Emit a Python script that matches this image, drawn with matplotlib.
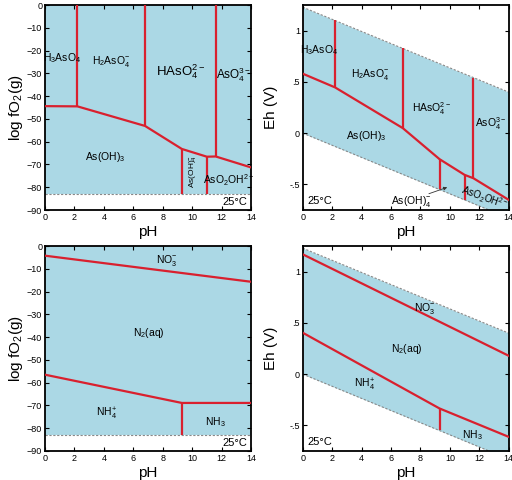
import numpy as np
import matplotlib
matplotlib.use("Agg")
import matplotlib.pyplot as plt

plt.rcParams['font.family'] = ['Liberation Sans', 'DejaVu Sans']
plt.rcParams['mathtext.fontset'] = 'custom'
plt.rcParams['mathtext.rm'] = 'Liberation Sans'
plt.rcParams['mathtext.it'] = 'Liberation Sans:italic'

# ---------------- data ----------------
ph_ticks = [0, 2, 4, 6, 8, 10, 12, 14]
logf_ticks = [0, -10, -20, -30, -40, -50, -60, -70, -80, -90]
eh_ticks = [-0.5, 0, 0.5, 1]
eh_ticklabels = ['-.5', '0', '.5', '1']

water_low_logf = -83.1
water_eh_top = [1.229, 0.40]     # upper water limit at pH 0 and 14
water_eh_bot = [0.0, -0.829]     # lower water limit at pH 0 and 14
water_ph = [0, 14]

# As, log fO2
as_f_bound_ph = [0, 2.2, 6.8, 9.3, 11.0, 11.6, 14]
as_f_bound_v = [-44.4, -44.5, -53.1, -63.2, -66.6, -66.5, -71.3]
as_f_vert_ph = [2.2, 6.8, 11.6, 9.3, 11.0]
as_f_vert_lo = [-44.5, -53.1, -66.5, -83.1, -83.1]
as_f_vert_hi = [0, 0, 0, -63.2, -66.6]

# As, Eh
as_e_bound_ph = [0, 2.2, 6.8, 9.3, 11.0, 11.6, 14]
as_e_bound_v = [0.58, 0.446, 0.049, -0.254, -0.407, -0.44, -0.651]
as_e_vert_ph = [2.2, 6.8, 11.6, 9.3, 11.0]
as_e_vert_lo = [0.446, 0.049, -0.433, -0.547, -0.651]
as_e_vert_hi = [1.099, 0.826, 0.542, -0.254, -0.407]

# N, log fO2
n_f_no3_ph = [0, 14]
n_f_no3_v = [-4.25, -15.7]
n_f_nh_ph = [0, 9.3, 14]
n_f_nh_v = [-56.5, -68.9, -68.9]
n_f_vert = [9.3, -83.1, -68.9]

# N, Eh
n_e_no3_ph = [0, 14]
n_e_no3_v = [1.169, 0.179]
n_e_nh_ph = [0, 9.3, 14]
n_e_nh_v = [0.404, -0.335, -0.612]
n_e_vert = [9.3, -0.547, -0.335]

FILL = '#abd8e5'
RED = '#d9202e'
LW = 1.6

fig = plt.figure(figsize=(5.12, 4.8), dpi=100)
W = 206 / 512
H = 205 / 480
ax1 = fig.add_axes([45 / 512, 1 - 210 / 480, W, H])
ax2 = fig.add_axes([302.7 / 512, 1 - 210 / 480, W, H])
ax3 = fig.add_axes([45 / 512, 1 - 451 / 480, W, H])
ax4 = fig.add_axes([302.7 / 512, 1 - 451 / 480, W, H])


def style(ax, logf):
    ax.set_xlim(0, 14)
    ax.set_xticks(ph_ticks)
    ax.tick_params(direction='in', top=True, right=True, labelsize=6.5,
                   length=3, width=0.8, pad=2)
    for s in ax.spines.values():
        s.set_linewidth(1.3)
    ax.set_xlabel('pH', fontsize=11, labelpad=2)
    if logf:
        ax.set_ylim(-90, 0)
        ax.set_yticks(logf_ticks)
        ax.set_ylabel(r'log fO$_2$(g)', fontsize=11, labelpad=1)
        ax.axhspan(water_low_logf, 0, color=FILL, lw=0, zorder=0)
        ax.axhline(water_low_logf, color='#888888', ls=(0, (2, 1.5)), lw=0.8, zorder=1)
        ax.text(12.9, -86.6, '25°C', fontsize=8, ha='center', va='center')
    else:
        ax.set_ylim(-0.75, 1.25)
        ax.set_yticks(eh_ticks)
        ax.set_yticklabels(eh_ticklabels)
        ax.set_ylabel('Eh (V)', fontsize=11, labelpad=8)
        ax.fill_between(water_ph, water_eh_bot, water_eh_top, color=FILL, lw=0, zorder=0)
        ax.plot(water_ph, water_eh_top, color='#888888', ls=(0, (2, 1.5)), lw=0.8, zorder=1)
        ax.plot(water_ph, water_eh_bot, color='#888888', ls=(0, (2, 1.5)), lw=0.8, zorder=1)
        ax.text(1.14, -0.665, '25°C', fontsize=8, ha='center', va='center')


style(ax1, True)
style(ax2, False)
style(ax3, True)
style(ax4, False)

# ---- As log fO2 ----
ax1.plot(as_f_bound_ph, as_f_bound_v, color=RED, lw=LW, zorder=3)
ax1.vlines(as_f_vert_ph, as_f_vert_lo, as_f_vert_hi, color=RED, lw=LW, zorder=3)
fs = 7.5
ax1.text(1.13, -23.4, r'H$_3$AsO$_4$', fontsize=fs, ha='center', va='center')
ax1.text(4.5, -24.9, r'H$_2$AsO$_4^{-}$', fontsize=fs, ha='center', va='center')
ax1.text(9.2, -29.3, r'HAsO$_4^{2-}$', fontsize=9.5, ha='center', va='center')
ax1.text(12.8, -30.7, r'AsO$_4^{3-}$', fontsize=8.5, ha='center', va='center')
ax1.text(4.1, -66.6, r'As(OH)$_3$', fontsize=fs, ha='center', va='center')
ax1.text(10.05, -73.2, r'As(OH)$_4^{-}$', fontsize=6, ha='center', va='center', rotation=90)
ax1.text(12.5, -76.9, r'AsO$_2$OH$^{2-}$', fontsize=fs, ha='center', va='center')

# ---- As Eh ----
ax2.plot(as_e_bound_ph, as_e_bound_v, color=RED, lw=LW, zorder=3)
ax2.vlines(as_e_vert_ph, as_e_vert_lo, as_e_vert_hi, color=RED, lw=LW, zorder=3)
ax2.text(1.14, 0.81, r'H$_3$AsO$_4$', fontsize=fs, ha='center', va='center')
ax2.text(4.55, 0.57, r'H$_2$AsO$_4^{-}$', fontsize=fs, ha='center', va='center')
ax2.text(8.76, 0.244, r'HAsO$_4^{2-}$', fontsize=fs, ha='center', va='center')
ax2.text(12.75, 0.09, r'AsO$_4^{3-}$', fontsize=fs, ha='center', va='center')
ax2.text(4.3, -0.03, r'As(OH)$_3$', fontsize=fs, ha='center', va='center')
ax2.text(7.4, -0.668, r'As(OH)$_4^{-}$', fontsize=fs, ha='center', va='center')
ax2.annotate('', xy=(10.0, -0.52), xytext=(8.4, -0.60),
             arrowprops=dict(arrowstyle='-|>', color='#333333', lw=0.6,
                             mutation_scale=5))
ax2.text(12.35, -0.63, r'AsO$_2$OH$^{2-}$', fontsize=7, ha='center', va='center',
         rotation=-20)

# ---- N log fO2 ----
ax3.plot(n_f_no3_ph, n_f_no3_v, color=RED, lw=LW, zorder=3)
ax3.plot(n_f_nh_ph, n_f_nh_v, color=RED, lw=LW, zorder=3)
ax3.vlines(n_f_vert[0], n_f_vert[1], n_f_vert[2], color=RED, lw=LW, zorder=3)
ax3.text(8.28, -6.45, r'NO$_3^{-}$', fontsize=fs, ha='center', va='center')
ax3.text(7.03, -38.4, r'N$_2$(aq)', fontsize=fs, ha='center', va='center')
ax3.text(4.2, -73.6, r'NH$_4^{+}$', fontsize=fs, ha='center', va='center')
ax3.text(11.6, -77.3, r'NH$_3$', fontsize=fs, ha='center', va='center')

# ---- N Eh ----
ax4.plot(n_e_no3_ph, n_e_no3_v, color=RED, lw=LW, zorder=3)
ax4.plot(n_e_nh_ph, n_e_nh_v, color=RED, lw=LW, zorder=3)
ax4.vlines(n_e_vert[0], n_e_vert[1], n_e_vert[2], color=RED, lw=LW, zorder=3)
ax4.text(8.3, 0.64, r'NO$_3^{-}$', fontsize=fs, ha='center', va='center')
ax4.text(7.06, 0.244, r'N$_2$(aq)', fontsize=fs, ha='center', va='center')
ax4.text(4.2, -0.1, r'NH$_4^{+}$', fontsize=fs, ha='center', va='center')
ax4.text(11.5, -0.59, r'NH$_3$', fontsize=fs, ha='center', va='center')

fig.savefig('out.png', dpi=100)
